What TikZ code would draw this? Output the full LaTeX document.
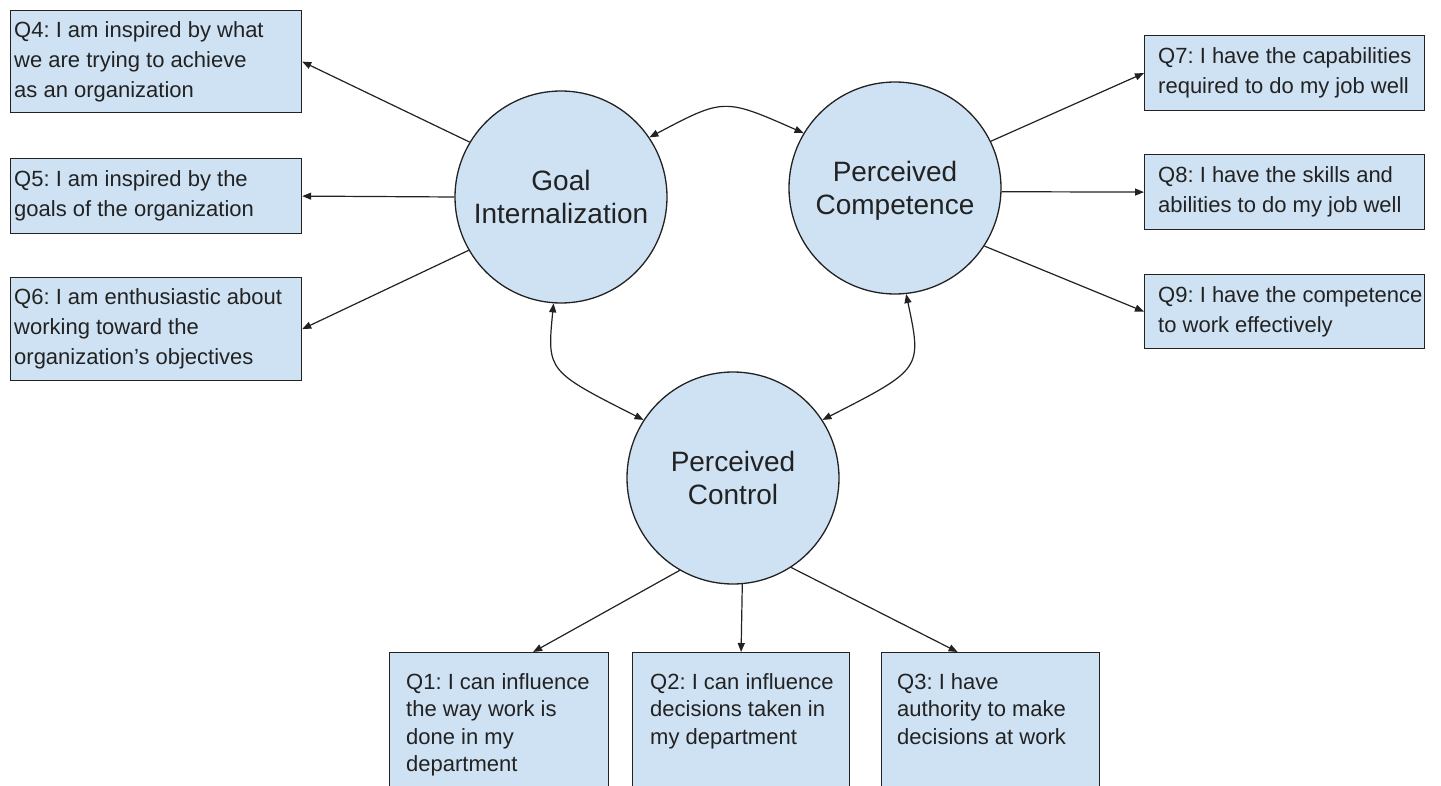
\documentclass[tikz,border=0pt]{standalone}
\usepackage{fontspec}
\setmainfont{Liberation Sans}
\usetikzlibrary{arrows.meta}
\definecolor{boxfill}{HTML}{CFE2F3}
\definecolor{ink}{HTML}{222222}
\frenchspacing
\begin{document}
\frenchspacing
\begin{tikzpicture}[x=1pt,y=-1pt,
  box/.style={draw=ink, line width=1.2pt, fill=boxfill, rectangle, inner sep=0pt, anchor=north west},
  lbl/.style={font=\fontsize{22}{30}\selectfont, text=ink, align=left, inner sep=0pt},
  lblb/.style={font=\fontsize{22}{27.5}\selectfont, text=ink, align=left, inner sep=0pt, anchor=north west},
  circ/.style={circle, draw=ink, line width=1.3pt, fill=boxfill, minimum size=212pt, inner sep=0pt, font=\fontsize{28}{32.5}\selectfont, text=ink, align=center},
  conn/.style={draw=ink, line width=1.2pt, -{Triangle[length=9pt,width=7pt]}},
  bi/.style={draw=ink, line width=1.2pt, {Triangle[length=9pt,width=7pt]}-{Triangle[length=9pt,width=7pt]}}
]
\useasboundingbox (0,0) rectangle (1441,786);
\clip (0,0) rectangle (1441,786);
\fill[white] (0,0) rectangle (1441,786);

% left boxes
\node[box, minimum width=291pt, minimum height=102pt] (q4) at (10,10) {};
\node[lbl, anchor=west] (q4t) at ([xshift=4pt]q4.west) {Q4: I am inspired by what\\we are trying to achieve\\as an organization};
\node[box, minimum width=291pt, minimum height=75pt] (q5) at (10,158) {};
\node[lbl, anchor=west] (q5t) at ([xshift=4pt]q5.west) {Q5: I am inspired by the\\goals of the organization};
\node[box, minimum width=291pt, minimum height=103pt] (q6) at (10,277) {};
\node[lbl, anchor=west] (q6t) at ([xshift=4pt]q6.west) {Q6: I am enthusiastic about\\working toward the\\organization’s objectives};

% right boxes
\node[box, minimum width=280pt, minimum height=75pt] (q7) at (1144,35) {};
\node[lbl, anchor=west] (q7t) at ([xshift=14pt]q7.west) {Q7: I have the capabilities\\required to do my job well};
\node[box, minimum width=280pt, minimum height=75pt] (q8) at (1144,154) {};
\node[lbl, anchor=west] (q8t) at ([xshift=14pt]q8.west) {Q8: I have the skills and\\abilities to do my job well};
\node[box, minimum width=280pt, minimum height=74pt] (q9) at (1144,274) {};
\node[lbl, anchor=west] (q9t) at ([xshift=14pt]q9.west) {Q9: I have the competence\\to work effectively};

% bottom boxes
\node[box, minimum width=219pt, minimum height=170pt] (q1) at (389,652) {};
\node[lblb] (q1t) at ([xshift=17pt,yshift=-21pt]q1.north west) {Q1: I can influence\\the way work is\\done in my\\department};
\node[box, minimum width=217pt, minimum height=170pt] (q2) at (632,652) {};
\node[lblb] (q2t) at ([xshift=18pt,yshift=-21pt]q2.north west) {Q2: I can influence\\decisions taken in\\my department};
\node[box, minimum width=218pt, minimum height=170pt] (q3) at (881,652) {};
\node[lblb] (q3t) at ([xshift=16pt,yshift=-21pt]q3.north west) {Q3: I have\\authority to make\\decisions at work};

% circles
\node[circ] (g) at (561,197) {Goal\\Internalization};
\node[circ, text depth=0pt] (c) at (895,188) {Perceived\\Competence};
\node[circ] (p) at (733,478) {Perceived\\Control};

% connectors
\draw[conn] (g.149) -- (q4.east);
\draw[conn] (g.west) -- (q5.east);
\draw[conn] (g.210) -- (q6.east);
\draw[conn] (c.26) -- (q7.west);
\draw[conn] (c.-2) -- (q8.west);
\draw[conn] (c.-33) -- (q9.west);
\draw[conn] (p.240) -- ([xshift=34pt]q1.north);
\draw[conn] (p.-85) -- (q2.north);
\draw[conn] (p.-57) -- ([xshift=-33pt]q3.north);

% curved two-way connectors
\draw[bi] (g.34) .. controls (724,98) .. (c.149);
\draw[bi] (g.266) .. controls (547,371) .. (p.147);
\draw[bi] (c.276) .. controls (922,369) .. (p.33);
\end{tikzpicture}
\end{document}
